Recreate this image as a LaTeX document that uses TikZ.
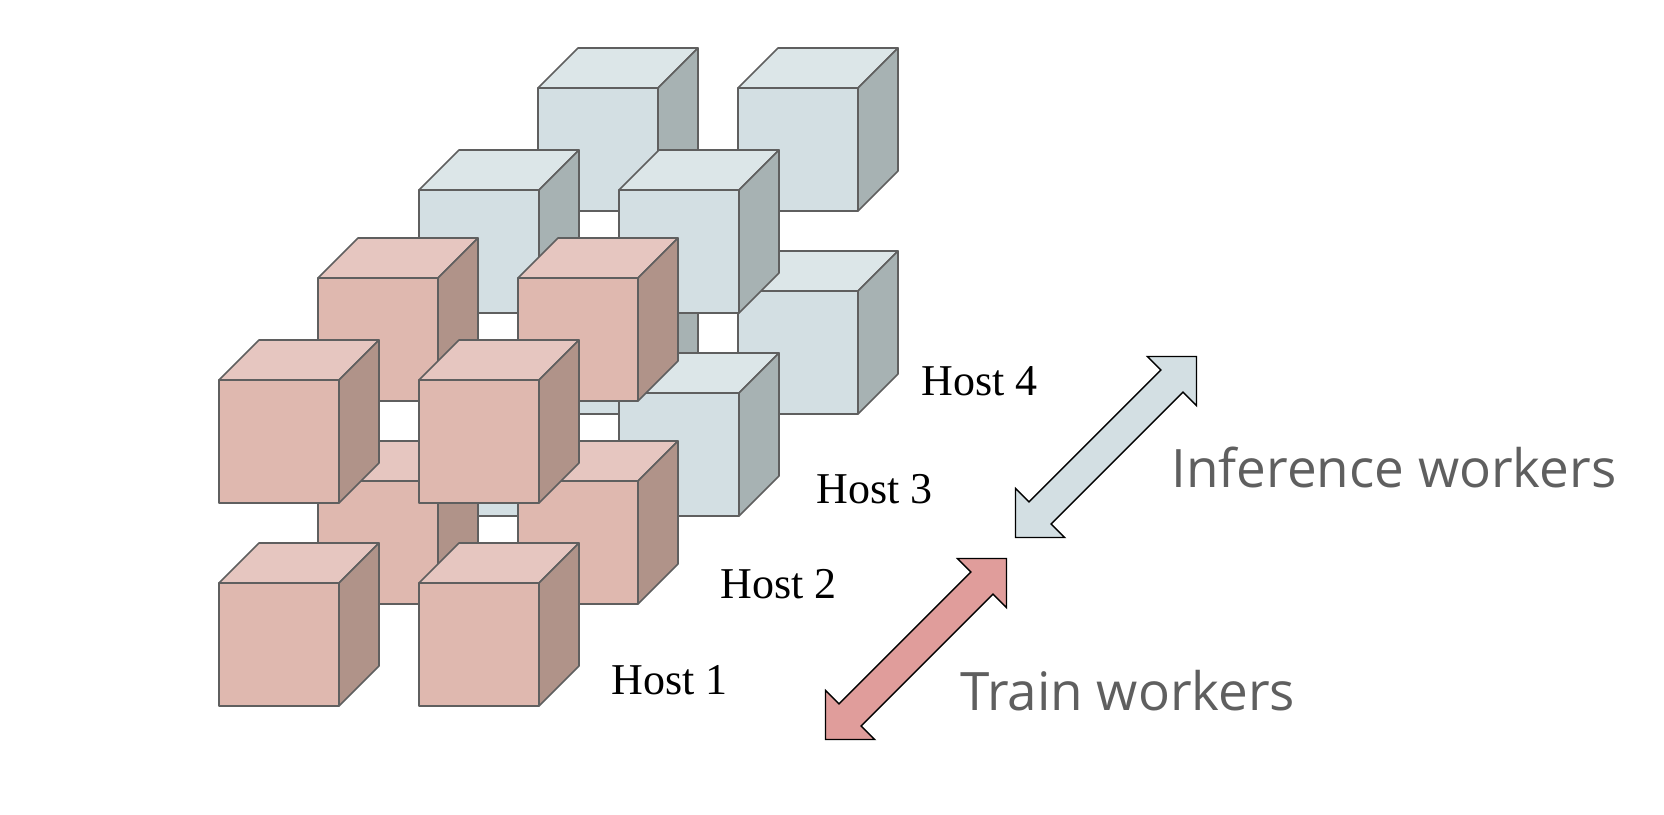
\documentclass[tikz,border=0pt]{standalone}
\usepackage{fontspec}
\newfontfamily\labelfont{Open Sans}
\newfontfamily\hostfont{Liberation Serif}
\usepackage{tikz}
\usetikzlibrary{shapes.arrows}

\definecolor{redfront}{HTML}{DFB8AF}
\definecolor{redtop}{HTML}{E6C6C0}
\definecolor{redside}{HTML}{B09389}
\definecolor{bluefront}{HTML}{D3DFE3}
\definecolor{bluetop}{HTML}{DCE6E8}
\definecolor{blueside}{HTML}{A7B2B3}
\definecolor{edgegray}{HTML}{5F5F5F}
\definecolor{trainred}{HTML}{E09D9B}

% one cube: front corner x, y, colour set
\newcommand\drawcube[3]{%
  \filldraw[cubeedge,fill=#3front] (#1,#2) rectangle ++(120,123);
  \filldraw[cubeedge,fill=#3top] (#1,#2) -- ++(40,-40) -- ++(120,0) -- ++(-40,40) -- cycle;
  \filldraw[cubeedge,fill=#3side] (#1+120,#2) -- ++(40,-40) -- ++(0,123) -- ++(-40,40) -- cycle;
}
% one host: two columns, two rows
\newcommand\drawhost[3]{%
  \drawcube{#1}{#2}{#3}
  \drawcube{#1+200}{#2}{#3}
  \drawcube{#1}{#2+203}{#3}
  \drawcube{#1+200}{#2+203}{#3}
}

\begin{document}
\begin{tikzpicture}[x=1pt,y=-1pt,
    cubeedge/.style={draw=edgegray,line width=1.6pt,line join=round},
    hostlabel/.style={font=\hostfont\fontsize{44}{46}\selectfont,anchor=west},
    workerlabel/.style={font=\labelfont\fontsize{53}{56}\selectfont,text=edgegray,anchor=west},
    workerarrow/.style={double arrow,draw=black,line width=1.4pt,minimum height=256,
      inner xsep=0pt,inner ysep=15pt,double arrow head extend=19,rotate=45}]
  \useasboundingbox (0,0) rectangle (1664,814);

  \drawhost{538}{88}{blue}
  \drawhost{419}{190}{blue}
  \drawhost{318}{278}{red}
  \drawhost{219}{380}{red}

  \node[hostlabel] (host4) at (918,381) {Host 4};
  \node[hostlabel] (host3) at (813,489) {Host 3};
  \node[hostlabel] (host2) at (717,584) {Host 2};
  \node[hostlabel] (host1) at (608,680) {Host 1};

  \node[workerarrow,fill=bluefront] (inferarrow) at (1106,447) {};
  \node[workerarrow,fill=trainred] (trainarrow) at (916,649) {};

  \node[workerlabel] (inferlabel) at (1168,467) {Inference workers};
  \node[workerlabel] (trainlabel) at (957,691) {Train workers};
\end{tikzpicture}
\end{document}
